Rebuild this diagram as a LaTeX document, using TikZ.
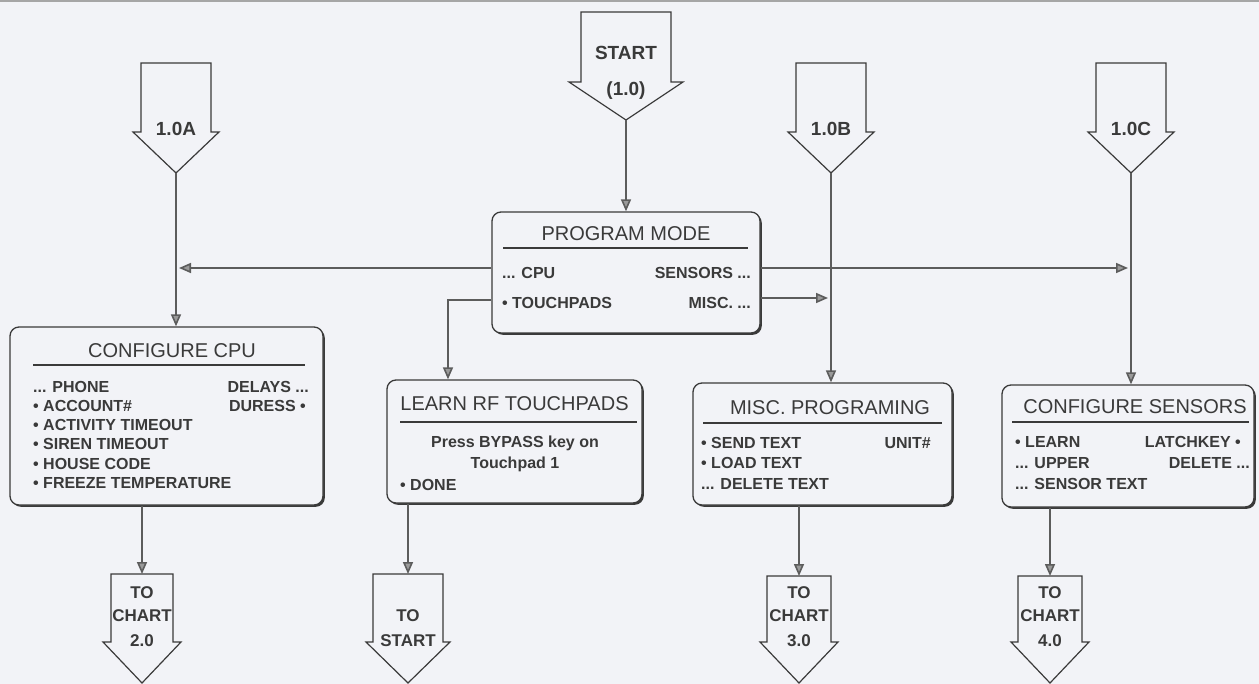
\documentclass[tikz,border=0pt]{standalone}
\usepackage{fontspec}
\setmainfont{Liberation Sans}
\usetikzlibrary{arrows.meta,shadows}
\definecolor{bg}{HTML}{F2F3F7}
\definecolor{ink}{HTML}{3A3A3A}
\definecolor{lin}{HTML}{5C5C5C}
\definecolor{tipfill}{HTML}{9A9A9A}
\tikzset{
 conn/.style={draw=lin, line width=1.6pt, -{Triangle[length=12pt,width=10pt,fill=tipfill]}},
 box/.style={draw=ink, line width=1.3pt, rounded corners=9pt, fill=bg, inner sep=0pt,
   drop shadow={shadow xshift=1.8pt,shadow yshift=-1.8pt,fill=ink,opacity=1}},
 ttl/.style={font=\fontsize{20}{23}\selectfont, text=ink, inner sep=0pt, text height=14.3pt, text depth=0pt},
 itm/.style={font=\bfseries\fontsize{16}{19}\selectfont, text=ink, inner sep=0pt, text height=11.5pt, text depth=0pt},
 boxrule/.style={draw=ink, line width=1.2pt},
 barrowshape/.style={draw=ink, line width=1.2pt, fill=bg, line join=miter},
 alab/.style={font=\bfseries\fontsize{19}{22}\selectfont, text=ink, inner sep=0pt, text height=13.6pt, text depth=0pt},
 blab/.style={font=\bfseries\fontsize{17}{20}\selectfont, text=ink, inner sep=0pt, text height=12.2pt, text depth=0pt},
}
% #1 name, #2 cx, #3 top, #4 half width, #5 shoulder y, #6 tip y, #7 wing
\newcommand\BlockArrow[7]{%
 \draw[barrowshape] (#2-#4,#3) -- (#2+#4,#3) -- (#2+#4,#5) -- (#2+#4+#7,#5) -- (#2,#6)
   -- (#2-#4-#7,#5) -- (#2-#4,#5) -- cycle;
 \coordinate (#1-tip) at (#2,#6);
 \coordinate (#1-top) at (#2,#3);
}
\begin{document}
\begin{tikzpicture}[x=1pt,y=-1pt]
\fill[bg] (0,0) rectangle (1259,684);
\useasboundingbox (0,0) rectangle (1259,684);
\draw[gray!70, line width=2pt] (0,1) -- (1259,1);

% top block arrows
\BlockArrow{aS}{626}{12}{45}{82}{120}{12}
\node[alab] (aSt) at (626,53) {START};
\node[alab] (aSn) at (626,89) {(1.0)};
\BlockArrow{aA}{176}{63}{35}{132}{173}{8}
\node[alab] (aAt) at (176,129) {1.0A};
\BlockArrow{aB}{831}{63}{35}{132}{173}{8}
\node[alab] (aBt) at (831,129) {1.0B};
\BlockArrow{aC}{1131}{63}{35}{132}{173}{8}
\node[alab] (aCt) at (1131,129) {1.0C};

% bottom block arrows
\BlockArrow{b2}{142}{574}{31}{642}{683}{8}
\node[blab] (b2a) at (142,592) {TO};
\node[blab] (b2b) at (142,615) {CHART};
\node[blab] (b2c) at (142,640) {2.0};
\BlockArrow{bS}{408}{574}{35}{642}{683}{7}
\node[blab] (bSa) at (408,615) {TO};
\node[blab] (bSb) at (408,640) {START};
\BlockArrow{b3}{799}{576}{32}{642}{683}{7}
\node[blab] (b3a) at (799,592) {TO};
\node[blab] (b3b) at (799,615) {CHART};
\node[blab] (b3c) at (799,640) {3.0};
\BlockArrow{b4}{1050}{576}{32}{642}{683}{7}
\node[blab] (b4a) at (1050,592) {TO};
\node[blab] (b4b) at (1050,615) {CHART};
\node[blab] (b4c) at (1050,640) {4.0};

% PROGRAM MODE
\node[box, minimum width=268pt, minimum height=121pt] (pm) at (626,272.5) {};
\node[ttl] (pmT) at (626,233) {PROGRAM MODE};
\draw[boxrule] (503,248) -- (748,248);
\node[itm, anchor=west] (pm1) at (502,273) {... CPU};
\node[itm, anchor=east] (pm2) at (751,273) {SENSORS ...};
\node[itm, anchor=west] (pm3) at (502,303) {• TOUCHPADS};
\node[itm, anchor=east] (pm4) at (751,303) {MISC. ...};

% CONFIGURE CPU
\node[box, minimum width=313pt, minimum height=178pt] (cpu) at (166.5,416) {};
\node[ttl] (cpuT) at (172,350) {CONFIGURE CPU};
\draw[boxrule] (33,365) -- (305,365);
\node[itm, anchor=west] (c1) at (33,387) {... PHONE};
\node[itm, anchor=west] (c2) at (33,406) {• ACCOUNT\#};
\node[itm, anchor=west] (c3) at (33,425) {• ACTIVITY TIMEOUT};
\node[itm, anchor=west] (c4) at (33,444) {• SIREN TIMEOUT};
\node[itm, anchor=west] (c5) at (33,464) {• HOUSE CODE};
\node[itm, anchor=west] (c6) at (33,483) {• FREEZE TEMPERATURE};
\node[itm, anchor=east] (c7) at (309,387) {DELAYS ...};
\node[itm, anchor=east] (c8) at (306,406) {DURESS •};

% LEARN RF TOUCHPADS
\node[box, minimum width=255pt, minimum height=123pt] (learn) at (514.5,441.5) {};
\node[ttl] (learnT) at (514.5,403) {LEARN RF TOUCHPADS};
\draw[boxrule] (400,422) -- (637,422);
\node[itm] (l1) at (515,442) {Press BYPASS key on};
\node[itm] (l2) at (515,463) {Touchpad 1};
\node[itm, anchor=west] (l3) at (400,485) {• DONE};

% MISC. PROGRAMING
\node[box, minimum width=259pt, minimum height=122pt] (misc) at (822.5,444) {};
\node[ttl] (miscT) at (830,407) {MISC. PROGRAMING};
\draw[boxrule] (703,423) -- (942,423);
\node[itm, anchor=west] (m1) at (701,443) {• SEND TEXT};
\node[itm, anchor=east] (m2) at (931,443) {UNIT\#};
\node[itm, anchor=west] (m3) at (701,463) {• LOAD TEXT};
\node[itm, anchor=west] (m4) at (701,484) {... DELETE TEXT};

% CONFIGURE SENSORS
\node[box, minimum width=252pt, minimum height=122pt] (sens) at (1128,446) {};
\node[ttl] (sensT) at (1135,406) {CONFIGURE SENSORS};
\draw[boxrule] (1012,422) -- (1249,422);
\node[itm, anchor=west] (s1) at (1015,442) {• LEARN};
\node[itm, anchor=east] (s2) at (1241,442) {LATCHKEY •};
\node[itm, anchor=west] (s3) at (1015,463) {... UPPER};
\node[itm, anchor=east] (s4) at (1250,463) {DELETE ...};
\node[itm, anchor=west] (s5) at (1015,484) {... SENSOR TEXT};

% levels
\coordinate (lvlCPU) at (0,268);
\coordinate (lvlMisc) at (0,298);
\coordinate (lvlTP) at (0,300);
\coordinate (tpCorner) at (448,300);

% connectors
\draw[conn] (aS-tip) -- (pm.north);
\draw[conn] (aA-tip) -- (aA-tip |- cpu.north);
\draw[conn] (aB-tip) -- (aB-tip |- misc.north);
\draw[conn] (aC-tip) -- (aC-tip |- sens.north);
\draw[conn, shorten >=3pt] (pm.west |- lvlCPU) -- (aA-tip |- lvlCPU);
\draw[conn, shorten >=3pt] (pm.east |- lvlCPU) -- (aC-tip |- lvlCPU);
\draw[conn, shorten >=3pt] (pm.east |- lvlMisc) -- (aB-tip |- lvlMisc);
\draw[conn] (pm.west |- lvlTP) -- (tpCorner) -- (tpCorner |- learn.north);
\draw[conn] (b2-top |- cpu.south) -- (b2-top);
\draw[conn] (bS-top |- learn.south) -- (bS-top);
\draw[conn] (b3-top |- misc.south) -- (b3-top);
\draw[conn] (b4-top |- sens.south) -- (b4-top);
\end{tikzpicture}
\end{document}
